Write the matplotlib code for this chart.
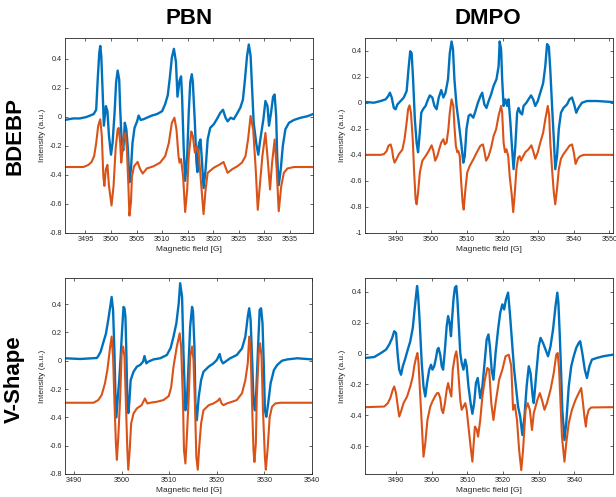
import matplotlib
matplotlib.use("Agg")
import matplotlib.pyplot as plt

plt.rcParams['font.family'] = ['Liberation Sans', 'DejaVu Sans']
plt.rcParams['axes.unicode_minus'] = False

# ---- PBN / BDEBP ----
pbn_bdebp_field_exp = [3491.0, 3492.6, 3493.9, 3495.2, 3496.6, 3497.1, 3497.4, 3497.7, 3497.9, 3498.1,
                       3498.4, 3498.6, 3499.0, 3499.3, 3499.6, 3500.0, 3500.3, 3500.7, 3501.0, 3501.3,
                       3501.6, 3501.8, 3502.1, 3502.4, 3502.7, 3503.0, 3503.3, 3503.6, 3503.9, 3504.2,
                       3504.6, 3505.1, 3505.4, 3505.8, 3506.4, 3507.0, 3508.0, 3509.0, 3510.0, 3510.6,
                       3511.1, 3511.5, 3511.9, 3512.3, 3512.7, 3513.0, 3513.4, 3513.7, 3513.9, 3514.2,
                       3514.5, 3514.9, 3515.2, 3515.5, 3515.8, 3516.0, 3516.4, 3516.7, 3516.9, 3517.2,
                       3517.5, 3517.8, 3518.1, 3518.5, 3518.9, 3519.4, 3520.1, 3520.7, 3521.4, 3521.9,
                       3522.4, 3522.8, 3523.4, 3524.0, 3524.6, 3525.3, 3525.8, 3526.2, 3526.6, 3526.95,
                       3527.3, 3527.6, 3527.9, 3528.4, 3528.8, 3529.2, 3529.8, 3530.2, 3530.6, 3530.9,
                       3531.3, 3531.7, 3532.0, 3532.3, 3532.5, 3532.8, 3533.2, 3533.6, 3534.1, 3534.8,
                       3535.8, 3537.1, 3538.4, 3539.5]
pbn_bdebp_int_exp = [-0.02, -0.01, -0.01, 0.0, 0.02, 0.05, 0.26, 0.44, 0.49, 0.42,
                     0.14, -0.06, 0.075, 0.04, -0.13, -0.26, -0.18, 0.03, 0.24, 0.32,
                     0.26, 0.05, -0.18, -0.23, -0.04, -0.085, -0.22, -0.45, -0.36, -0.18,
                     -0.075, -0.03, 0.01, -0.02, -0.015, -0.005, 0.01, 0.02, 0.04, 0.09,
                     0.15, 0.27, 0.41, 0.47, 0.38, 0.14, 0.25, 0.28, 0.14, -0.2,
                     -0.44, -0.27, 0.03, 0.24, 0.295, 0.24, -0.04, -0.31, -0.38, -0.18,
                     -0.155, -0.31, -0.49, -0.36, -0.155, -0.075, -0.05, -0.015, 0.03, 0.05,
                     -0.005, -0.03, -0.005, -0.015, 0.02, 0.065, 0.12, 0.26, 0.42, 0.5,
                     0.42, 0.19, -0.04, -0.18, -0.26, -0.155, -0.015, 0.11, 0.075, -0.06,
                     0.03, 0.14, 0.155, 0.007, -0.27, -0.47, -0.36, -0.2, -0.085, -0.04,
                     -0.02, -0.005, 0.005, 0.02]
pbn_bdebp_field_sim = [3491.0, 3494.6, 3495.6, 3496.2, 3496.7, 3497.1, 3497.5, 3497.9, 3498.2, 3498.5,
                       3498.7, 3499.0, 3499.3, 3499.6, 3500.1, 3500.5, 3500.9, 3501.3, 3501.5, 3501.8,
                       3502.0, 3502.2, 3502.5, 3502.8, 3503.1, 3503.4, 3503.6, 3503.9, 3504.1, 3504.5,
                       3505.2, 3505.7, 3506.2, 3507.0, 3508.3, 3509.6, 3510.6, 3511.3, 3511.9, 3512.4,
                       3512.8, 3513.2, 3513.4, 3513.7, 3514.1, 3514.5, 3514.9, 3515.2, 3515.7, 3516.0,
                       3516.4, 3516.8, 3517.2, 3517.6, 3518.1, 3518.5, 3518.9, 3520.1, 3521.4, 3522.0,
                       3522.8, 3523.7, 3524.7, 3525.6, 3526.3, 3526.8, 3527.3, 3527.8, 3528.3, 3528.7,
                       3529.1, 3529.6, 3530.2, 3530.7, 3531.1, 3531.5, 3532.0, 3532.4, 3532.8, 3533.3,
                       3533.8, 3534.5, 3535.8, 3539.5]
pbn_bdebp_int_sim = [-0.345, -0.345, -0.33, -0.31, -0.27, -0.18, -0.06, -0.016, -0.13, -0.41,
                     -0.475, -0.36, -0.33, -0.475, -0.61, -0.475, -0.22, -0.085, -0.075, -0.18,
                     -0.315, -0.245, -0.13, -0.11, -0.22, -0.475, -0.68, -0.59, -0.41, -0.34,
                     -0.31, -0.36, -0.39, -0.355, -0.34, -0.315, -0.27, -0.18, -0.04, -0.005,
                     -0.085, -0.27, -0.315, -0.29, -0.41, -0.655, -0.5, -0.27, -0.1, -0.13,
                     -0.245, -0.2, -0.27, -0.45, -0.67, -0.5, -0.385, -0.35, -0.325, -0.31,
                     -0.385, -0.36, -0.34, -0.315, -0.27, -0.155, 0.007, -0.085, -0.36, -0.64,
                     -0.475, -0.27, -0.11, -0.315, -0.5, -0.315, -0.155, -0.36, -0.65, -0.475,
                     -0.385, -0.355, -0.345, -0.345]

# ---- DMPO / BDEBP ----
dmpo_bdebp_field_exp = [3481.9, 3483.9, 3485.8, 3487.2, 3487.9, 3488.4, 3488.9, 3489.5, 3490.0, 3490.5,
                        3491.4, 3492.3, 3493.1, 3493.6, 3494.1, 3494.5, 3494.9, 3495.4, 3495.9, 3496.3,
                        3496.7, 3497.2, 3497.7, 3498.4, 3499.1, 3499.6, 3500.3, 3500.9, 3501.5, 3502.1,
                        3502.8, 3503.4, 3504.0, 3504.7, 3505.2, 3505.7, 3506.1, 3506.5, 3507.1, 3507.7,
                        3508.4, 3509.0, 3509.4, 3509.9, 3510.5, 3511.0, 3511.8, 3512.4, 3513.1, 3513.8,
                        3514.3, 3514.9, 3515.5, 3516.1, 3516.8, 3517.5, 3518.3, 3518.9, 3519.2, 3519.6,
                        3519.9, 3520.3, 3520.8, 3521.3, 3521.7, 3522.2, 3522.7, 3523.1, 3523.6, 3524.1,
                        3524.5, 3525.0, 3525.5, 3525.9, 3526.7, 3527.3, 3528.0, 3528.6, 3529.2, 3529.9,
                        3530.6, 3531.4, 3532.0, 3532.5, 3533.0, 3533.4, 3533.9, 3534.4, 3534.8, 3535.3,
                        3535.8, 3536.4, 3537.1, 3538.1, 3538.8, 3539.5, 3540.1, 3540.7, 3541.3, 3542.3,
                        3543.7, 3546.5, 3551.0]
dmpo_bdebp_int_exp = [0.005, 0.0, 0.013, 0.026, 0.05, 0.077, 0.04, -0.04, -0.05, -0.013,
                      0.013, 0.04, 0.09, 0.255, 0.395, 0.38, 0.18, -0.13, -0.31, -0.38,
                      -0.255, -0.077, -0.05, -0.025, 0.026, 0.056, 0.04, -0.025, -0.05, 0.04,
                      0.097, 0.04, 0.077, 0.18, 0.38, 0.47, 0.41, 0.18, -0.025, -0.15,
                      -0.31, -0.46, -0.41, -0.2, -0.1, -0.09, -0.115, -0.064, 0.0, 0.05,
                      0.077, -0.013, -0.04, 0.013, 0.064, 0.13, 0.18, 0.28, 0.47, 0.41,
                      0.18, -0.025, 0.026, -0.025, 0.026, -0.15, -0.36, -0.51, -0.33, -0.077,
                      -0.04, -0.077, -0.09, -0.025, 0.0, 0.026, 0.056, 0.026, -0.025, 0.013,
                      0.077, 0.15, 0.28, 0.45, 0.43, 0.255, -0.025, -0.28, -0.51, -0.41,
                      -0.2, -0.077, -0.04, -0.013, 0.026, 0.04, -0.013, -0.077, -0.04, 0.0,
                      0.013, 0.013, 0.005]
dmpo_bdebp_field_sim = [3481.9, 3485.8, 3486.7, 3487.5, 3488.0, 3488.6, 3489.0, 3489.3, 3489.7, 3490.3,
                        3490.9, 3491.9, 3492.5, 3493.1, 3493.5, 3493.9, 3494.3, 3494.8, 3495.2, 3495.6,
                        3495.9, 3496.3, 3496.8, 3497.5, 3498.4, 3499.3, 3500.1, 3500.6, 3501.1, 3501.7,
                        3502.2, 3502.8, 3503.4, 3503.8, 3504.3, 3504.8, 3505.2, 3505.7, 3506.2, 3506.5,
                        3506.9, 3507.3, 3507.6, 3508.0, 3508.4, 3508.8, 3509.1, 3509.6, 3510.1, 3510.8,
                        3511.9, 3512.8, 3513.8, 3514.5, 3514.9, 3515.4, 3516.1, 3516.8, 3517.5, 3518.2,
                        3518.9, 3519.6, 3519.9, 3520.3, 3520.7, 3521.1, 3521.6, 3522.0, 3522.6, 3523.0,
                        3523.4, 3523.9, 3524.4, 3524.8, 3525.2, 3525.8, 3526.4, 3527.3, 3528.1, 3528.6,
                        3529.2, 3529.9, 3530.6, 3531.4, 3532.0, 3532.7, 3533.1, 3533.4, 3533.9, 3534.4,
                        3534.8, 3535.3, 3535.8, 3536.4, 3537.1, 3538.1, 3538.8, 3539.5, 3540.0, 3540.5,
                        3541.1, 3541.8, 3542.8, 3551.0]
dmpo_bdebp_int_sim = [-0.40, -0.40, -0.395, -0.37, -0.33, -0.32, -0.36, -0.42, -0.46, -0.43,
                      -0.395, -0.36, -0.28, -0.15, -0.05, -0.02, -0.077, -0.28, -0.535, -0.74,
                      -0.78, -0.69, -0.535, -0.445, -0.41, -0.37, -0.327, -0.37, -0.445, -0.41,
                      -0.36, -0.306, -0.28, -0.32, -0.306, -0.204, -0.077, 0.026, -0.025, -0.18,
                      -0.33, -0.38, -0.37, -0.41, -0.61, -0.765, -0.82, -0.66, -0.535, -0.485,
                      -0.43, -0.38, -0.33, -0.32, -0.37, -0.445, -0.41, -0.345, -0.255, -0.204,
                      -0.1, -0.025, -0.077, -0.306, -0.38, -0.357, -0.41, -0.56, -0.71, -0.84,
                      -0.71, -0.51, -0.42, -0.41, -0.445, -0.41, -0.38, -0.357, -0.327, -0.37,
                      -0.43, -0.38, -0.306, -0.23, -0.128, -0.025, -0.1, -0.306, -0.51, -0.69,
                      -0.78, -0.66, -0.51, -0.43, -0.395, -0.357, -0.33, -0.32, -0.38, -0.47,
                      -0.43, -0.41, -0.40, -0.40]

# ---- PBN / V-Shape ----
pbn_vshape_field_exp = [3488.1, 3491.3, 3494.8, 3495.1, 3495.6, 3496.2, 3496.7, 3497.2, 3497.6, 3497.9,
                        3498.2, 3498.5, 3498.7, 3498.9, 3499.2, 3499.5, 3499.8, 3500.1, 3500.4, 3500.6,
                        3500.8, 3501.0, 3501.2, 3501.4, 3501.6, 3501.9, 3502.5, 3503.2, 3503.9, 3504.5,
                        3504.8, 3505.2, 3505.6, 3506.7, 3508.1, 3509.5, 3510.3, 3510.9, 3511.5, 3512.0,
                        3512.3, 3512.7, 3513.0, 3513.4, 3513.7, 3514.1, 3514.4, 3514.8, 3515.0, 3515.3,
                        3515.5, 3515.8, 3516.2, 3516.7, 3517.2, 3518.3, 3519.3, 3520.0, 3520.6, 3520.9,
                        3521.3, 3521.8, 3522.8, 3524.2, 3525.3, 3526.0, 3526.5, 3526.8, 3527.1, 3527.5,
                        3527.7, 3528.0, 3528.3, 3528.7, 3529.0, 3529.3, 3529.6, 3529.9, 3530.1, 3530.4,
                        3530.8, 3531.3, 3532.0, 3532.7, 3533.7, 3534.8, 3536.9, 3540.0]
pbn_vshape_int_exp = [0.017, 0.012, 0.019, 0.033, 0.064, 0.134, 0.19, 0.29, 0.38, 0.45,
                      0.36, 0.05, -0.255, -0.4, -0.255, -0.137, 0.03, 0.217, 0.38, 0.37,
                      0.31, 0.05, -0.28, -0.37, -0.3, -0.137, -0.078, -0.042, -0.03, -0.007,
                      0.033, -0.019, -0.007, 0.009, 0.017, 0.04, 0.09, 0.17, 0.264, 0.406,
                      0.547, 0.45, 0.052, -0.35, -0.3, 0.005, 0.24, 0.38, 0.347, 0.1,
                      -0.3, -0.42, -0.255, -0.137, -0.078, -0.042, -0.019, 0.005, 0.047, 0.005,
                      -0.019, -0.007, 0.017, 0.04, 0.087, 0.17, 0.31, 0.37, 0.288, -0.066,
                      -0.28, -0.35, -0.21, 0.123, 0.358, 0.37, 0.264, -0.066, -0.35, -0.396,
                      -0.3, -0.16, -0.066, -0.03, 0.0, 0.009, 0.017, 0.009]
pbn_vshape_field_sim = [3488.1, 3494.1, 3495.1, 3495.8, 3496.5, 3497.0, 3497.6, 3497.9, 3498.2, 3498.5,
                        3498.8, 3499.0, 3499.3, 3499.7, 3500.0, 3500.3, 3500.6, 3500.9, 3501.2, 3501.4,
                        3501.7, 3502.0, 3502.5, 3503.2, 3504.2, 3504.9, 3505.4, 3506.0, 3507.4, 3508.8,
                        3509.9, 3510.4, 3510.9, 3511.6, 3512.2, 3512.5, 3512.9, 3513.1, 3513.4, 3513.7,
                        3514.1, 3514.4, 3514.8, 3515.1, 3515.4, 3515.7, 3516.0, 3516.3, 3516.7, 3517.2,
                        3518.3, 3519.3, 3520.2, 3520.6, 3521.0, 3521.4, 3522.1, 3523.2, 3524.2, 3525.3,
                        3526.0, 3526.5, 3526.8, 3527.1, 3527.4, 3527.7, 3527.9, 3528.2, 3528.4, 3528.8,
                        3529.1, 3529.4, 3529.7, 3530.1, 3530.3, 3530.7, 3531.1, 3531.6, 3532.3, 3533.4,
                        3540.0]
pbn_vshape_int_sim = [-0.297, -0.297, -0.278, -0.243, -0.16, -0.066, 0.1, 0.17, 0.028, -0.3,
                      -0.585, -0.7, -0.54, -0.255, 0.052, 0.1, 0.028, -0.3, -0.63, -0.77,
                      -0.63, -0.443, -0.373, -0.337, -0.314, -0.267, -0.302, -0.297, -0.29, -0.278,
                      -0.25, -0.19, -0.042, 0.1, 0.193, 0.1, -0.3, -0.63, -0.726, -0.54,
                      -0.255, 0.028, 0.1, 0.005, -0.3, -0.68, -0.77, -0.61, -0.443, -0.35,
                      -0.314, -0.302, -0.283, -0.267, -0.302, -0.314, -0.302, -0.29, -0.278, -0.23,
                      -0.137, -0.019, 0.17, 0.075, -0.3, -0.63, -0.715, -0.585, -0.255, 0.052,
                      0.123, 0.028, -0.35, -0.68, -0.77, -0.61, -0.4, -0.325, -0.302, -0.297,
                      -0.297]

# ---- DMPO / V-Shape ----
dmpo_vshape_field_exp = [3481.6, 3483.9, 3485.8, 3487.2, 3488.1, 3488.9, 3489.5, 3490.0, 3490.5, 3490.9,
                         3491.4, 3491.9, 3492.5, 3493.3, 3494.0, 3494.7, 3495.3, 3495.9, 3496.2, 3496.6,
                         3497.2, 3497.7, 3498.2, 3498.7, 3499.3, 3499.8, 3500.2, 3500.7, 3501.2, 3501.6,
                         3501.9, 3502.4, 3502.8, 3503.2, 3503.7, 3504.2, 3504.6, 3505.0, 3505.4, 3505.7,
                         3506.1, 3506.5, 3506.9, 3507.2, 3507.6, 3508.0, 3508.4, 3508.9, 3509.4, 3509.8,
                         3510.3, 3510.9, 3511.4, 3511.9, 3512.4, 3512.9, 3513.6, 3514.2, 3514.9, 3515.4,
                         3515.9, 3516.3, 3516.8, 3517.3, 3517.9, 3518.6, 3519.2, 3519.8, 3520.3, 3520.8,
                         3521.4, 3521.9, 3522.6, 3523.1, 3523.6, 3524.2, 3524.8, 3525.4, 3526.0, 3526.6,
                         3527.2, 3527.7, 3528.3, 3528.6, 3529.4, 3530.0, 3530.5, 3531.2, 3531.9, 3532.6,
                         3533.3, 3534.0, 3534.7, 3535.2, 3535.5, 3535.9, 3536.3, 3536.6, 3537.2, 3537.7,
                         3538.4, 3539.1, 3539.8, 3540.5, 3541.2, 3541.6, 3542.2, 3542.9, 3543.5, 3544.2,
                         3544.9, 3546.3, 3548.1, 3550.8]
dmpo_vshape_int_exp = [-0.028, -0.022, 0.004, 0.026, 0.059, 0.1, 0.145, 0.134, -0.017, -0.104,
                       -0.137, -0.082, -0.039, 0.026, 0.08, 0.167, 0.308, 0.438, 0.373, 0.22,
                       -0.06, -0.213, -0.278, -0.19, -0.104, -0.072, -0.104, -0.082, -0.028, 0.026,
                       0.037, -0.007, -0.082, -0.104, 0.026, 0.178, 0.243, 0.2, 0.113, 0.22,
                       0.351, 0.427, 0.438, 0.351, 0.178, 0.004, -0.06, -0.104, -0.039, -0.082,
                       -0.213, -0.32, -0.39, -0.32, -0.19, -0.158, -0.288, -0.213, -0.039, 0.091,
                       0.124, 0.048, -0.104, -0.169, 0.004, 0.156, 0.265, 0.319, 0.286, 0.351,
                       0.395, 0.265, 0.048, -0.104, -0.213, -0.343, -0.408, -0.527, -0.408, -0.213,
                       -0.082, -0.126, -0.278, -0.32, -0.104, 0.048, 0.102, 0.069, 0.026, -0.017,
                       0.048, 0.156, 0.308, 0.395, 0.33, 0.113, -0.148, -0.364, -0.56, -0.45,
                       -0.213, -0.082, -0.017, 0.037, 0.069, 0.08, 0.004, -0.104, -0.158, -0.082,
                       -0.039, -0.028, -0.017, -0.007]
dmpo_vshape_field_sim = [3481.6, 3486.7, 3487.7, 3488.4, 3489.1, 3489.5, 3490.0, 3490.5, 3490.9, 3491.4,
                         3492.1, 3493.1, 3494.0, 3494.7, 3495.1, 3495.6, 3496.0, 3496.3, 3496.8, 3497.3,
                         3497.7, 3498.2, 3498.8, 3499.6, 3500.2, 3500.9, 3501.5, 3501.9, 3502.4, 3502.8,
                         3503.2, 3503.7, 3504.2, 3504.6, 3505.0, 3505.5, 3505.9, 3506.5, 3506.9, 3507.2,
                         3507.6, 3508.0, 3508.4, 3508.9, 3509.4, 3509.8, 3510.3, 3510.9, 3511.4, 3511.7,
                         3512.1, 3512.6, 3513.0, 3513.6, 3514.2, 3514.9, 3515.6, 3516.1, 3516.7, 3517.3,
                         3517.9, 3518.9, 3519.8, 3520.7, 3521.6, 3522.3, 3522.8, 3523.3, 3523.9, 3524.5,
                         3525.1, 3525.6, 3526.3, 3526.9, 3527.5, 3528.1, 3528.6, 3529.6, 3530.3, 3530.9,
                         3531.6, 3532.3, 3533.3, 3534.2, 3534.9, 3535.3, 3535.7, 3536.1, 3536.5, 3537.2,
                         3537.7, 3538.4, 3539.3, 3540.3, 3541.2, 3541.9, 3542.4, 3542.8, 3543.2, 3543.5,
                         3544.0, 3544.7, 3550.8]
dmpo_vshape_int_sim = [-0.347, -0.343, -0.321, -0.288, -0.234, -0.213, -0.256, -0.343, -0.408, -0.375,
                       -0.321, -0.278, -0.213, -0.148, -0.082, -0.028, 0.004, -0.06, -0.278, -0.495,
                       -0.668, -0.581, -0.43, -0.343, -0.31, -0.278, -0.256, -0.256, -0.288, -0.364,
                       -0.386, -0.321, -0.234, -0.191, -0.234, -0.278, -0.104, -0.017, 0.015, -0.039,
                       -0.169, -0.3, -0.364, -0.343, -0.321, -0.364, -0.473, -0.603, -0.7, -0.603,
                       -0.473, -0.49, -0.538, -0.43, -0.278, -0.169, -0.093, -0.104, -0.321, -0.43,
                       -0.321, -0.169, -0.104, -0.017, -0.007, -0.082, -0.364, -0.332, -0.43, -0.625,
                       -0.755, -0.625, -0.364, -0.321, -0.364, -0.495, -0.386, -0.3, -0.256, -0.3,
                       -0.364, -0.321, -0.234, -0.126, -0.007, 0.004, -0.104, -0.321, -0.538, -0.7,
                       -0.581, -0.451, -0.364, -0.3, -0.256, -0.223, -0.321, -0.408, -0.473, -0.408,
                       -0.364, -0.349, -0.347]

blue = '#0072BD'
orange = '#D95319'
gray = '#262626'

fig = plt.figure(figsize=(6.16, 4.97), dpi=100)

panels = [
    ([0.1055, 0.5312, 0.4026, 0.3924], pbn_bdebp_field_exp, pbn_bdebp_int_exp,
     pbn_bdebp_field_sim, pbn_bdebp_int_sim,
     (3491.0, 3539.5), (-0.8, 0.545), range(3495, 3540, 5), [-0.8, -0.6, -0.4, -0.2, 0, 0.2, 0.4]),
    ([0.5925, 0.5312, 0.4026, 0.3924], dmpo_bdebp_field_exp, dmpo_bdebp_int_exp,
     dmpo_bdebp_field_sim, dmpo_bdebp_int_sim,
     (3481.4, 3551.0), (-1.0, 0.497), range(3490, 3560, 10), [-1, -0.8, -0.6, -0.4, -0.2, 0, 0.2, 0.4]),
    ([0.1055, 0.0463, 0.4010, 0.3944], pbn_vshape_field_exp, pbn_vshape_int_exp,
     pbn_vshape_field_sim, pbn_vshape_int_sim,
     (3488.1, 3540.0), (-0.8, 0.584), range(3490, 3550, 10), [-0.8, -0.6, -0.4, -0.2, 0, 0.2, 0.4]),
    ([0.5925, 0.0463, 0.4026, 0.3944], dmpo_vshape_field_exp, dmpo_vshape_int_exp,
     dmpo_vshape_field_sim, dmpo_vshape_int_sim,
     (3481.3, 3550.8), (-0.78, 0.49), range(3490, 3550, 10), [-0.6, -0.4, -0.2, 0, 0.2, 0.4]),
]

for rect, fx, ix, fs, isim, xl, yl, xt, yt in panels:
    ax = fig.add_axes(rect)
    ax.plot(fx, ix, color=blue, lw=1.7, solid_joinstyle='round')
    ax.plot(fs, isim, color=orange, lw=1.5, solid_joinstyle='round')
    ax.set_xlim(xl)
    ax.set_ylim(yl)
    ax.set_xticks(list(xt))
    ax.set_yticks(yt)
    ax.set_yticklabels([('%g' % v) for v in yt])
    ax.tick_params(direction='in', length=2.5, width=0.5, labelsize=5.2,
                   colors=gray, top=True, right=True, pad=2)
    for s in ax.spines.values():
        s.set_color(gray)
        s.set_linewidth(0.6)
    ax.set_xlabel('Magnetic field [G]', fontsize=6, color=gray, labelpad=2)
    ax.set_ylabel('Intensity (a.u.)', fontsize=6, color=gray, labelpad=3)

fig.text(0.307, 0.962, 'PBN', fontsize=16, fontweight='bold', ha='center', va='center')
fig.text(0.792, 0.962, 'DMPO', fontsize=16, fontweight='bold', ha='center', va='center')
fig.text(0.024, 0.727, 'BDEBP', fontsize=16, fontweight='bold', rotation=90, ha='center', va='center')
fig.text(0.024, 0.238, 'V-Shape', fontsize=16, fontweight='bold', rotation=90, ha='center', va='center')

fig.savefig('out.png', dpi=100)
